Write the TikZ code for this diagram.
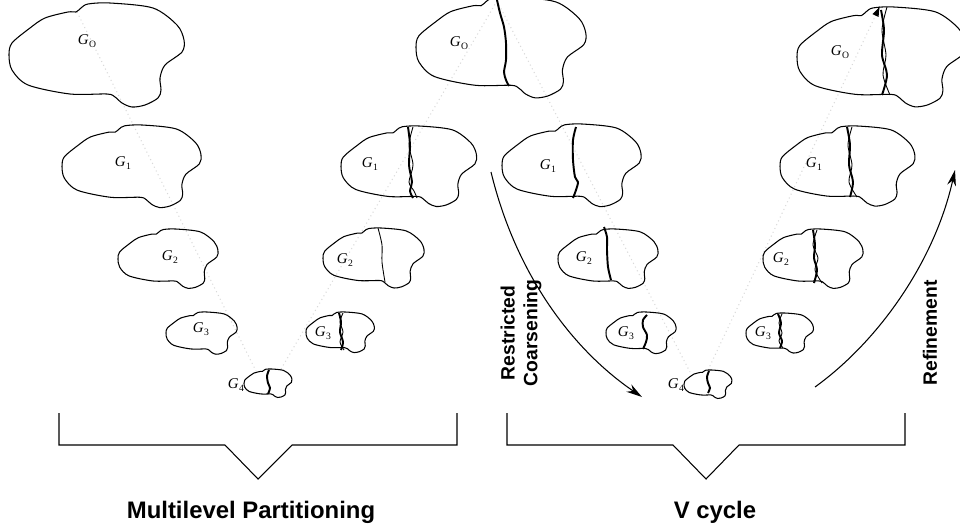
\documentclass[tikz,border=0pt]{standalone}
\usepackage{fontspec}
\setmainfont{Liberation Serif}
\newfontfamily\hvfont{Liberation Sans}
\usetikzlibrary{arrows.meta}
\newcommand{\glab}[1]{\textit{G}\kern0.03em\raisebox{-0.45ex}{\fontsize{5.5}{6}\selectfont #1}}
\begin{document}
\begin{tikzpicture}[x=0.02cm, y=-0.02cm,
  blobline/.style={line width=0.6pt, line join=round},
  cutthick/.style={line width=1.1pt},
  cutthin/.style={line width=0.5pt},
  trace/.style={draw=gray!30, dash pattern=on 0.6pt off 1.8pt, line width=0.6pt},
  bigarrow/.style={line width=0.6pt, -{Stealth[length=9pt,width=5pt]}},
  bracket/.style={line width=0.6pt, line join=miter},
  caption/.style={font=\hvfont\bfseries\fontsize{13.6}{16}\selectfont, inner sep=0pt},
  sidecap/.style={font=\hvfont\bfseries\fontsize{11}{13}\selectfont, rotate=90, align=center, inner sep=0pt},
  glabel/.style={font=\fontsize{8.5}{10}\selectfont, inner sep=0pt},
  blob/.pic={
    \draw[blobline] plot[smooth cycle, tension=0.5] coordinates {
      (59,9) (67,9) (72,5) (79,1) (101,0) (144,5) (168,22) (175,37) (173,49)
      (156,62) (151,75) (152,87) (149,95) (136,102) (123,104) (113,100)
      (106,94) (98,91) (61,91) (19,82) (3,67) (0,52) (3,40) (21,25) (36,15)};
    \coordinate (-n) at (67,9);
  }]
\useasboundingbox (0,0) rectangle (960,531);

% ---- dotted traces (behind) ----
\coordinate (t1) at (77,12);
\coordinate (t2) at (256,371);
\coordinate (t3) at (281,369);
\coordinate (t4) at (497,1);
\coordinate (t5) at (690,372);
\coordinate (t6) at (708,370);
\coordinate (t7) at (880,6);
\draw[trace] (t1) -- (t2);
\draw[trace] (t3) -- (t4);
\draw[trace] (t4) -- (t5);
\draw[trace, -{Latex[length=6pt,width=4pt,black]}] (t6) -- (t7);

% ---- blobs ----
\pic[scale=1.0]   (lg0) at (9,3)     {blob};
\pic[scale=0.794] (lg1) at (62,125)  {blob};
\pic[scale=0.571] (lg2) at (118,229) {blob};
\pic[scale=0.406] (lg3) at (166,312) {blob};
\pic[scale=0.274] (lg4) at (244,369) {blob};
\pic[scale=0.39]  (mg3) at (306,312) {blob};
\pic[scale=0.577] (mg2) at (323,228) {blob};
\pic[scale=0.774] (mg1) at (341,126) {blob};
\pic[scale=0.97]  (mg0) at (416,-3)  {blob};
\pic[scale=0.794] (vg1) at (502,124) {blob};
\pic[scale=0.571] (vg2) at (558,229) {blob};
\pic[scale=0.40]  (vg3) at (606,312) {blob};
\pic[scale=0.274] (vg4) at (684,370) {blob};
\pic[scale=0.385] (rg3) at (746,313) {blob};
\pic[scale=0.571] (rg2) at (763,229) {blob};
\pic[scale=0.77]  (rg1) at (780,126) {blob};
\pic[scale=0.96]  (rg0) at (797,7)   {blob};

% ---- partition cuts ----
% left G4
\draw[cutthick] plot[smooth] coordinates {(269,370) (267,376) (268,383) (270,388) (268,394)};
% middle column
\draw[cutthick] plot[smooth] coordinates {(497,0) (500,13) (504,27) (506,43) (506,60) (504,72) (506,80) (509,86)};
\draw[cutthick] plot[smooth] coordinates {(408,127) (410,145) (409,165) (412,182) (410,191) (413,198)};
\draw[cutthin]  plot[smooth] coordinates {(413,127) (409,145) (413,165) (409,182) (414,191) (417,198)};
\draw[cutthin]  plot[smooth] coordinates {(378,228) (382,245) (382,262) (385,282)};
\draw[cutthick] plot[smooth] coordinates {(339,313) (341,322) (340,332) (343,342) (341,350)};
\draw[cutthin]  plot[smooth] coordinates {(343,313) (340,322) (343,332) (340,342) (344,350)};
% V-cycle coarsening column
\draw[cutthick] plot[smooth] coordinates {(576,127) (573,140) (573,160) (575,177) (578,182) (576,190) (573,198)};
\draw[cutthick] plot[smooth] coordinates {(604,227) (607,237) (607,250) (608,267) (611,280)};
\draw[cutthick] plot[smooth] coordinates {(647,315) (643,320) (643,327) (647,335) (646,342) (643,349)};
\draw[cutthick] plot[smooth] coordinates {(709,371) (707,377) (708,383) (710,388) (708,393)};
% refinement column
\draw[cutthick] plot[smooth] coordinates {(778,314) (781,323) (779,333) (782,341) (780,348)};
\draw[cutthin]  plot[smooth] coordinates {(782,314) (779,323) (782,333) (779,341) (783,348)};
\draw[cutthick] plot[smooth] coordinates {(813,230) (815,245) (814,258) (817,270) (814,283)};
\draw[cutthin]  plot[smooth] coordinates {(817,230) (813,245) (818,258) (815,270) (822,283)};
\draw[cutthick] plot[smooth] coordinates {(847,127) (850,145) (849,165) (853,182) (850,197)};
\draw[cutthin]  plot[smooth] coordinates {(852,127) (848,145) (852,165) (849,182) (857,197)};
\draw[cutthick] plot[smooth] coordinates {(881,10) (884,30) (882,55) (887,75) (882,95)};
\draw[cutthin]  plot[smooth] coordinates {(887,7) (882,30) (886,55) (883,75) (890,95)};

% ---- labels ----
\node[glabel] (llg0) at (87,41)   {\glab{O}};
\node[glabel] (llg1) at (123,163) {\glab{1}};
\node[glabel] (llg2) at (170,257) {\glab{2}};
\node[glabel] (llg3) at (201,329) {\glab{3}};
\node[glabel] (llg4) at (236,385) {\glab{4}};
\node[glabel] (lmg0) at (459,43)  {\glab{O}};
\node[glabel] (lmg1) at (370,164) {\glab{1}};
\node[glabel] (lmg2) at (345,260) {\glab{2}};
\node[glabel] (lmg3) at (323,333) {\glab{3}};
\node[glabel] (lvg1) at (548,166) {\glab{1}};
\node[glabel] (lvg2) at (584,258) {\glab{2}};
\node[glabel] (lvg3) at (626,333) {\glab{3}};
\node[glabel] (lvg4) at (676,385) {\glab{4}};
\node[glabel] (lrg0) at (840,52)  {\glab{O}};
\node[glabel] (lrg1) at (814,164) {\glab{1}};
\node[glabel] (lrg2) at (781,259) {\glab{2}};
\node[glabel] (lrg3) at (763,333) {\glab{3}};

% ---- big arrows ----
\coordinate (rcA) at (491,172);
\coordinate (rcB) at (642,397);
\draw[bigarrow] (rcA) .. controls (516,275) and (573,350) .. (rcB);
\coordinate (rfA) at (815,387);
\coordinate (rfB) at (955,170);
\draw[bigarrow] (rfA) .. controls (880,340) and (935,260) .. (rfB);
\node[sidecap] (rc) at (521,333) {Restricted\\Coarsening};
\node[sidecap] (rf) at (930,333) {Refinement};

% ---- brackets ----
\coordinate (b1a) at (59,413);  \coordinate (b1v) at (258,479); \coordinate (b1b) at (457,413);
\coordinate (b2a) at (507,413); \coordinate (b2v) at (706,479); \coordinate (b2b) at (905,413);
\draw[bracket] (b1a) -- (59,445) -- (225,445) -- (b1v) -- (292,445) -- (457,445) -- (b1b);
\draw[bracket] (b2a) -- (507,445) -- (673,445) -- (b2v) -- (739,445) -- (905,445) -- (b2b);

\node[caption, anchor=base] (cap1) at (251,518) {Multilevel Partitioning};
\node[caption, anchor=base] (cap2) at (715,518) {V cycle};
\end{tikzpicture}
\end{document}
